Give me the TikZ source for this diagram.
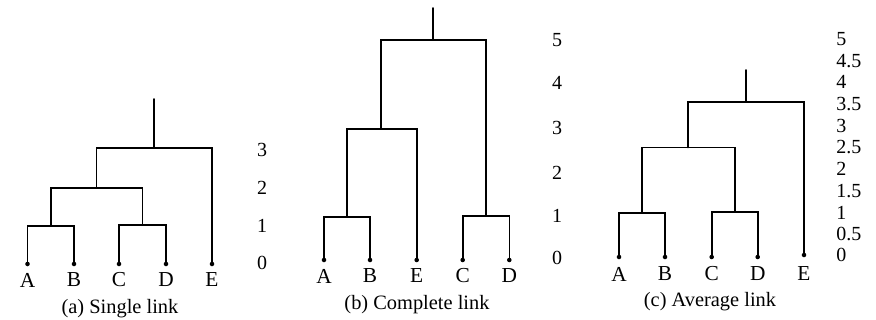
\documentclass[tikz,border=0pt]{standalone}
\usepackage{fontspec}
\setmainfont{Liberation Serif}
\begin{document}
\begin{tikzpicture}[x=0.75pt,y=-0.75pt,
  link/.style={line width=1.2pt,line cap=round,line join=miter},
  leaf/.style={circle,fill,inner sep=0pt,minimum size=3.4pt},
  lbl/.style={font=\fontsize{16}{18}\selectfont,inner sep=0pt},
  num/.style={font=\fontsize{15}{17}\selectfont,inner sep=0pt},
  captext/.style={font=\fontsize{15.3}{17}\selectfont,inner sep=0pt}]
\useasboundingbox (0,0) rectangle (876,320);
% ---------- (a) Single link ----------
\node[leaf] (aA) at (27.5,264) {};
\node[leaf] (aB) at (74,264) {};
\node[leaf] (aC) at (119,264) {};
\node[leaf] (aD) at (166,264) {};
\node[leaf] (aE) at (212,264) {};
\coordinate (aAB) at (50.7,226);
\coordinate (aCD) at (142.5,225);
\coordinate (aABCD) at (96.6,188);
\coordinate (aR) at (154,148);
\coordinate (aT) at (154,99);
\draw[link] (aA.center) |- (aAB) -| (aB.center);
\draw[link] (aC.center) |- (aCD) -| (aD.center);
\draw[link] (aAB) |- (aABCD) -| (aCD);
\draw[link] (aABCD) |- (aR) -| (aE.center);
\draw[link] (aR) -- (aT);
\node[lbl] (aLA) at (27.5,280) {A};
\node[lbl] (aLB) at (74,280) {B};
\node[lbl] (aLC) at (119,280) {C};
\node[lbl] (aLD) at (166,280) {D};
\node[lbl] (aLE) at (212,280) {E};
\node[num] (a3) at (262,150) {3};
\node[num] (a2) at (262,188) {2};
\node[num] (a1) at (262,226) {1};
\node[num] (a0) at (262,263) {0};
\node[captext] (acap) at (120,309) {(a) Single link};
% ---------- (b) Complete link ----------
\node[leaf] (bA) at (324,260) {};
\node[leaf] (bB) at (370,260) {};
\node[leaf] (bE) at (416.7,260) {};
\node[leaf] (bC) at (462.7,260) {};
\node[leaf] (bD) at (509.3,260) {};
\coordinate (bAB) at (347,217);
\coordinate (bCD) at (486,216);
\coordinate (bABE) at (381,129);
\coordinate (bR) at (433,40);
\coordinate (bT) at (433,8);
\draw[link] (bA.center) |- (bAB) -| (bB.center);
\draw[link] (bC.center) |- (bCD) -| (bD.center);
\draw[link] (bAB) |- (bABE) -| (bE.center);
\draw[link] (bABE) |- (bR) -| (bCD);
\draw[link] (bR) -- (bT);
\node[lbl] (bLA) at (324,276) {A};
\node[lbl] (bLB) at (370,276) {B};
\node[lbl] (bLE) at (416.7,276) {E};
\node[lbl] (bLC) at (462.7,276) {C};
\node[lbl] (bLD) at (509.3,276) {D};
\node[num] (b5) at (557,40) {5};
\node[num] (b4) at (557,83) {4};
\node[num] (b3) at (557,128) {3};
\node[num] (b2) at (557,173) {2};
\node[num] (b1) at (557,216) {1};
\node[num] (b0) at (557,258) {0};
\node[captext] (bcap) at (417,305) {(b) Complete link};
% ---------- (c) Average link ----------
\node[leaf] (cA) at (619,257) {};
\node[leaf] (cB) at (665,257) {};
\node[leaf] (cC) at (711.7,257) {};
\node[leaf] (cD) at (757.7,257) {};
\node[leaf] (cE) at (804,255) {};
\coordinate (cAB) at (642,213);
\coordinate (cCD) at (734.7,212);
\coordinate (cABCD) at (688,147.5);
\coordinate (cR) at (746,102);
\coordinate (cT) at (746,70);
\draw[link] (cA.center) |- (cAB) -| (cB.center);
\draw[link] (cC.center) |- (cCD) -| (cD.center);
\draw[link] (cAB) |- (cABCD) -| (cCD);
\draw[link] (cABCD) |- (cR) -| (cE.center);
\draw[link] (cR) -- (cT);
\node[lbl] (cLA) at (619,274) {A};
\node[lbl] (cLB) at (665,274) {B};
\node[lbl] (cLC) at (711.7,274) {C};
\node[lbl] (cLD) at (757.7,274) {D};
\node[lbl] (cLE) at (804,274) {E};
\node[num,anchor=west] (c50) at (836,39) {5};
\node[num,anchor=west] (c45) at (836,61) {4.5};
\node[num,anchor=west] (c40) at (836,82) {4};
\node[num,anchor=west] (c35) at (836,104) {3.5};
\node[num,anchor=west] (c30) at (836,126) {3};
\node[num,anchor=west] (c25) at (836,147) {2.5};
\node[num,anchor=west] (c20) at (836,169) {2};
\node[num,anchor=west] (c15) at (836,191) {1.5};
\node[num,anchor=west] (c10) at (836,213) {1};
\node[num,anchor=west] (c05) at (836,234) {0.5};
\node[num,anchor=west] (c00) at (836,255) {0};
\node[captext] (ccap) at (710,302) {(c) Average link};
\end{tikzpicture}
\end{document}
